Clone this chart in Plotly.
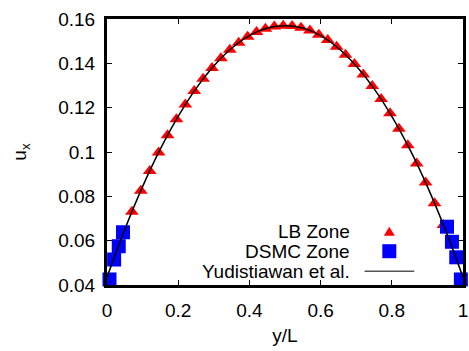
import plotly.graph_objects as go

# LB Zone (red triangles)
lb_x = [0.045, 0.07, 0.095, 0.12, 0.145, 0.17, 0.195, 0.22, 0.245, 0.27, 0.295, 0.32,
        0.345, 0.37, 0.395, 0.42, 0.445, 0.47, 0.495, 0.52, 0.545, 0.57, 0.595, 0.62,
        0.645, 0.67, 0.695, 0.72, 0.745, 0.77, 0.795, 0.82, 0.845, 0.87, 0.895, 0.92, 0.945]
lb_u = [0.0630, 0.0731, 0.0825, 0.0914, 0.0998, 0.1076, 0.1148, 0.1214, 0.1275, 0.1330,
        0.1379, 0.1423, 0.1461, 0.1493, 0.1520, 0.1541, 0.1556, 0.1566, 0.1570, 0.1568,
        0.1561, 0.1548, 0.1529, 0.1505, 0.1475, 0.1439, 0.1397, 0.1350, 0.1298, 0.1239,
        0.1175, 0.1105, 0.1030, 0.0948, 0.0862, 0.0769, 0.0671]

# DSMC Zone (blue squares)
dsmc_x = [0.007, 0.020, 0.033, 0.045, 0.955, 0.969, 0.981, 0.994]
dsmc_u = [0.0425, 0.0515, 0.0575, 0.0638, 0.0663, 0.0595, 0.0525, 0.0425]

# Yudistiawan et al. (black line)
ref_x = [0.0, 0.05, 0.1, 0.15, 0.2, 0.25, 0.3, 0.35, 0.4, 0.45, 0.5,
         0.55, 0.6, 0.65, 0.7, 0.75, 0.8, 0.85, 0.9, 0.95, 1.0]
ref_u = [0.0435, 0.0651, 0.0844, 0.1014, 0.1161, 0.1286, 0.1388, 0.1468, 0.1525, 0.1559, 0.1570,
         0.1559, 0.1525, 0.1468, 0.1388, 0.1286, 0.1161, 0.1014, 0.0844, 0.0651, 0.0435]

x_ticks = [0, 0.2, 0.4, 0.6, 0.8, 1]
x_tick_text = ["0", "0.2", "0.4", "0.6", "0.8", "1"]
y_ticks = [0.04, 0.06, 0.08, 0.10, 0.12, 0.14, 0.16]
y_tick_text = ["0.04", "0.06", "0.08", "0.1", "0.12", "0.14", "0.16"]

legend_names = ["LB Zone", "DSMC Zone", "Yudistiawan et al."]

FONT = "Liberation Sans, Arial, sans-serif"
FS = 19

fig = go.Figure()
fig.add_trace(go.Scatter(x=lb_x, y=lb_u, mode="markers", name=legend_names[0],
                         marker=dict(symbol="triangle-up", size=12, color="#ff0000"),
                         cliponaxis=False))
fig.add_trace(go.Scatter(x=dsmc_x, y=dsmc_u, mode="markers", name=legend_names[1],
                         marker=dict(symbol="square", size=14, color="#0000ff"),
                         cliponaxis=False))
fig.add_trace(go.Scatter(x=ref_x, y=ref_u, mode="lines", name=legend_names[2],
                         line=dict(color="black", width=1.5, shape="spline")))

# custom gnuplot-style legend (text left, sample right)
text_x = 0.687
sym_x = 0.793
rows_y = [0.200, 0.127, 0.052]
for name, yy in zip(legend_names, rows_y):
    fig.add_annotation(x=text_x, y=yy, xref="paper", yref="paper", text=name,
                       showarrow=False, xanchor="right", yanchor="middle",
                       font=dict(family=FONT, size=FS, color="black"))
fig.add_shape(type="path", xref="paper", yref="paper", xsizemode="pixel", ysizemode="pixel",
              xanchor=sym_x, yanchor=rows_y[0], path="M-5.5,-4 L5.5,-4 L0,5 Z",
              fillcolor="#ff0000", line=dict(width=0))
fig.add_shape(type="rect", xref="paper", yref="paper", xsizemode="pixel", ysizemode="pixel",
              xanchor=sym_x, yanchor=rows_y[1], x0=-7, x1=7, y0=-7, y1=7,
              fillcolor="#0000ff", line=dict(width=0))
fig.add_shape(type="line", xref="paper", yref="paper", x0=0.7235, x1=0.863,
              y0=rows_y[2], y1=rows_y[2], line=dict(color="black", width=1))

axis_common = dict(showline=True, linewidth=3, linecolor="black", mirror="allticks",
                   ticks="inside", ticklen=5, tickwidth=1, tickcolor="black",
                   showgrid=False, zeroline=False,
                   tickfont=dict(family=FONT, size=FS, color="black"))
fig.update_xaxes(range=[0, 1], tickvals=x_ticks, ticktext=x_tick_text, ticklabelstandoff=6,
                 title=dict(text="y/L", font=dict(family=FONT, size=FS, color="black"), standoff=9),
                 **axis_common)
fig.update_yaxes(range=[0.04, 0.16], tickvals=y_ticks, ticktext=y_tick_text, ticklabelstandoff=5,
                 title=dict(text="u<sub>x</sub>", font=dict(family=FONT, size=FS, color="black"), standoff=27),
                 **axis_common)

fig.update_layout(width=469, height=351, showlegend=False,
                  margin=dict(l=107, r=6, t=19, b=66, autoexpand=False),
                  paper_bgcolor="white", plot_bgcolor="white",
                  font=dict(family=FONT, size=FS, color="black"))

fig.write_html("out.html")
